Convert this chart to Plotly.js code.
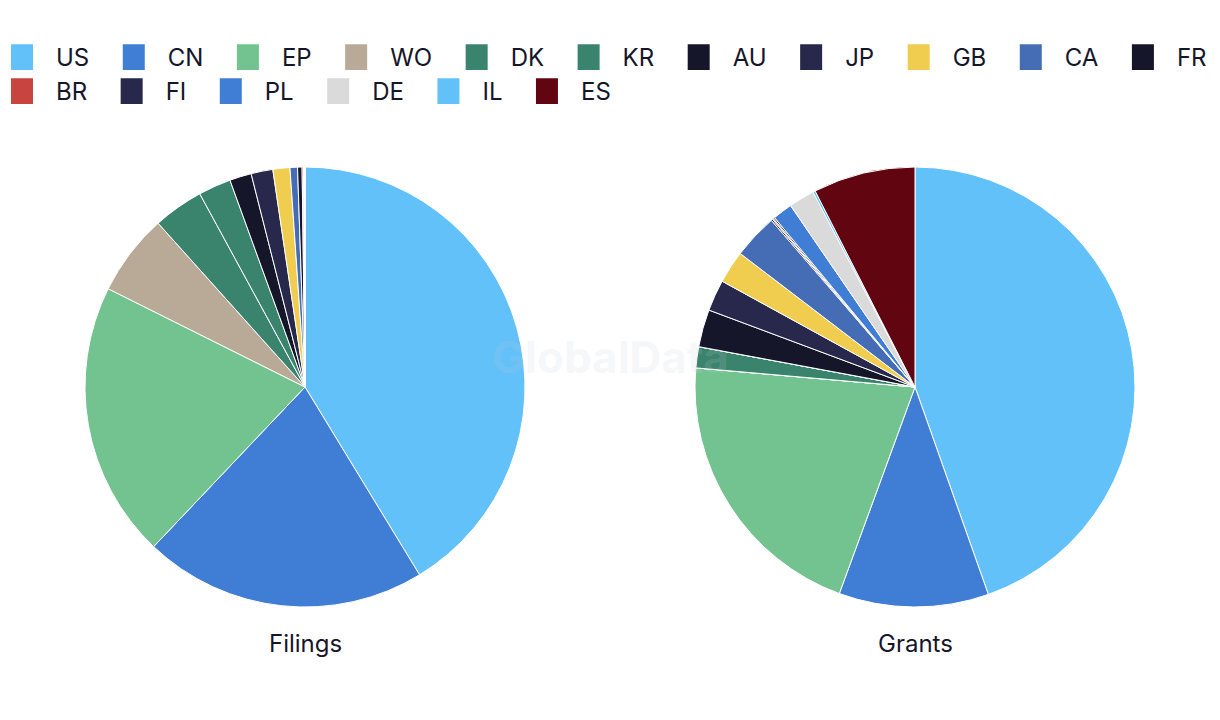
<!DOCTYPE html>
<html>
<head>
<meta charset="utf-8">
<script src="https://cdn.plot.ly/plotly-3.0.1.min.js"></script>
<style>
html,body{margin:0;padding:0;background:#fff;}
#chart{width:1220px;height:720px;}
</style>
</head>
<body>
<div id="chart"></div>
<script>
// Countries (legend order)
var countries = ["US","CN","EP","WO","DK","KR","AU","JP","GB","CA","FR","BR","FI","PL","DE","IL","ES"];
// Share of filings (approx., per mille)
var filings = [413, 208, 203, 60, 37, 24, 16, 16, 12.5, 5.5, 3.3, 1, 0.5, 0.3, 0.2, 0.1, 0];
// Share of grants (approx., per mille)
var grants = [446, 110, 208, 0, 15.5, 0, 27.5, 23, 24, 33, 1.1, 0.8, 1.1, 14.5, 19, 1.7, 75];
var colors = ["#62C1F9","#407ED6","#72C38F","#B8AA96","#3A836C","#3A836C","#15162A","#27284B","#F0CC4F","#456DB5","#15162A","#C8443F","#27284B","#407ED6","#DADADA","#62C1F9","#610611"];
var panelTitles = ["Filings","Grants"];

var common = {
  type: "pie",
  labels: countries,
  sort: false,
  direction: "clockwise",
  rotation: 0,
  textinfo: "none",
  hoverinfo: "label+percent",
  marker: {colors: colors, line: {color: "#ffffff", width: 1}}
};
var t1 = Object.assign({}, common, {values: filings, name: panelTitles[0],
  domain: {x: [85/1220, 525/1220], y: [1-607/720, 1-167/720]}});
var t2 = Object.assign({}, common, {values: grants, name: panelTitles[1],
  domain: {x: [695/1220, 1135/1220], y: [1-607/720, 1-167/720]}});

var font = "Inter, 'Liberation Sans', Arial, sans-serif";
var layout = {
  width: 1220, height: 720,
  margin: {l: 0, r: 0, t: 0, b: 0},
  paper_bgcolor: "#ffffff",
  font: {family: font, color: "#15162A", size: 24},
  showlegend: true,
  legend: {orientation: "h", x: 0, y: 1 - 35/720, xanchor: "left", yanchor: "top",
           itemwidth: 44,
           font: {family: font, size: 24, color: "#15162A"}, itemclick: false},
  annotations: [
    {text: panelTitles[0], x: 305/1220, y: 1-643/720, xref: "paper", yref: "paper",
     showarrow: false, xanchor: "center", yanchor: "middle", font: {size: 24, color: "#15162A", family: font}},
    {text: panelTitles[1], x: 915/1220, y: 1-643/720, xref: "paper", yref: "paper",
     showarrow: false, xanchor: "center", yanchor: "middle", font: {size: 24, color: "#15162A", family: font}},
    {text: "<b>GlobalData</b>", x: 610/1220, y: 1-357/720, xref: "paper", yref: "paper",
     showarrow: false, xanchor: "center", yanchor: "middle", font: {size: 44, color: "rgba(200,205,215,0.18)", family: font}}
  ]
};
Plotly.newPlot("chart", [t1, t2], layout, {displayModeBar: false}).then(function(){
  document.querySelectorAll(".legendpie").forEach(function(p){
    p.setAttribute("transform", "translate(20,0) scale(2,2.33)");
  });
  var sb = document.querySelector(".legend .scrollbox");
  if (sb) sb.removeAttribute("clip-path");
  var items = document.querySelectorAll(".legend .traces");
  var x = 2, row = 0, y0 = null;
  items.forEach(function(g){
    var m = /translate\(([-\d.]+)[ ,]+([-\d.]+)\)/.exec(g.getAttribute("transform") || "");
    if (y0 === null) y0 = m ? parseFloat(m[2]) : 0;
    var txt = g.querySelector(".legendtext");
    var w = txt ? txt.getBBox().width : 30;
    if (x + 54 + w > 1220) { x = 2; row++; }
    g.setAttribute("transform", "translate(" + x + "," + (y0 + row * 34) + ")");
    x += 54 + w + 24.5;
  });
});
</script>
</body>
</html>
